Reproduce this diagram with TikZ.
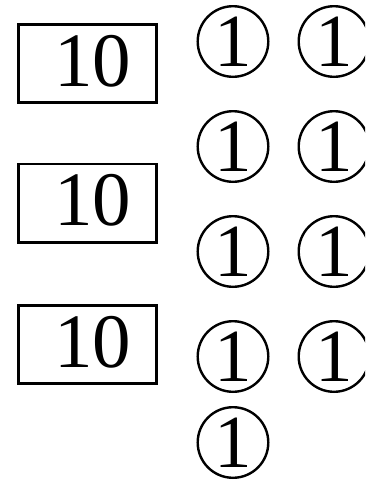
\documentclass[tikz,border=0pt]{standalone}
\usepackage{fontspec}
\setmainfont{Liberation Serif}
\begin{document}
\begin{tikzpicture}[x=1pt,y=-1pt,
  numbox/.style={draw,line width=2.6pt,minimum width=138.4pt,minimum height=78.4pt,inner sep=0pt},
  numtext/.style={inner sep=0pt,font=\fontsize{77}{80}\selectfont},
  onecirc/.style={draw,circle,line width=2.4pt,minimum size=70.6pt,inner sep=0pt,font=\fontsize{75}{78}\selectfont}]
\useasboundingbox (0,0) rectangle (365,480);
\clip (0,0) rectangle (365,480);
% boxes
\node[numbox] (b1) at (87.5,63.5) {};
\node[numbox] (b2) at (87.5,203) {};
\node[numbox] (b3) at (87.5,344.5) {};
\node[numtext] (t1) at (92.5,61) {10};
\node[numtext] (t2) at (92.5,200.5) {10};
\node[numtext] (t3) at (92.5,342) {10};
% circles
\node[onecirc] (c11) at (233,41.5) {1};
\node[onecirc] (c12) at (334,41.5) {1};
\node[onecirc] (c21) at (233,146.5) {1};
\node[onecirc] (c22) at (334,146.5) {1};
\node[onecirc] (c31) at (233,251.5) {1};
\node[onecirc] (c32) at (334,251.5) {1};
\node[onecirc] (c41) at (233,356.5) {1};
\node[onecirc] (c42) at (334,356.5) {1};
\node[onecirc] (c51) at (233,442.5) {1};
\end{tikzpicture}
\end{document}
